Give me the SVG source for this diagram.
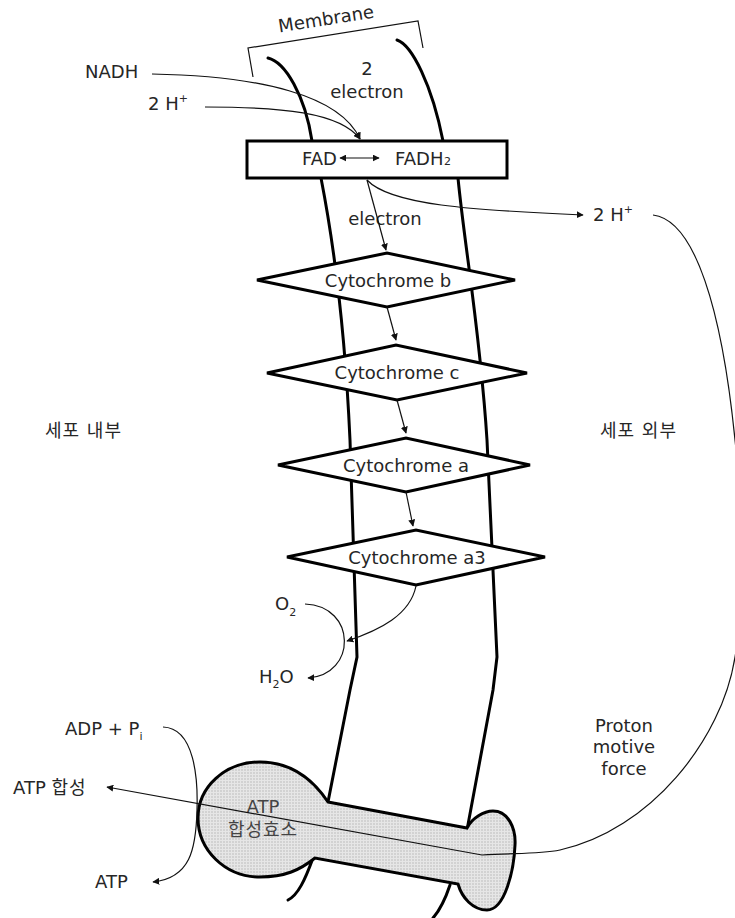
<svg xmlns="http://www.w3.org/2000/svg" width="735" height="918" viewBox="0 0 735 918">
<style>
text{font-family:'DejaVu Sans','Noto Sans CJK KR',sans-serif;font-size:18px;fill:#262626}
.k{letter-spacing:1px}
.mem{fill:none;stroke:#000;stroke-width:3;stroke-linecap:round}
.thin{fill:none;stroke:#111;stroke-width:1.2}
.node{fill:#fff;stroke:#000;stroke-width:3;stroke-linejoin:miter}
.m{text-anchor:middle}
</style>
<defs>
<marker id="ah" viewBox="0 0 10 10" refX="9" refY="5" markerWidth="7" markerHeight="7" markerUnits="userSpaceOnUse" orient="auto-start-reverse">
<path d="M0,0 L10,5 L0,10 z" fill="#111"/>
</marker>
<pattern id="grid" width="3" height="3" patternUnits="userSpaceOnUse">
<rect width="3" height="3" fill="#d2d2d2"/>
<path d="M0,0.5 H3 M0.5,0 V3" stroke="#e6e6e6" stroke-width="1"/>
</pattern>
</defs>
<rect width="735" height="918" fill="#fff"/>

<g id="membrane">
<path class="mem" d="M268,58 C285,62 305,95 312,141"/>
<path class="mem" d="M397,40 C412,45 432,85 443,141"/>
<path class="mem" d="M321,178 C335,250 345,330 350,440 L357,657 L350,690 L328,802"/>
<path class="mem" d="M458,178 C465,250 480,330 487,440 L497,657 L493,690 L467,830"/>
<path class="mem" d="M313,858 C305,880 298,895 288,900"/>
<path class="mem" d="M450,885 C445,900 440,910 433,918"/>
<path class="thin" d="M253,77 L248,48 L418,21 L423,48"/>
<text class="m" transform="translate(327,25) rotate(-9)">Membrane</text>
</g>

<g id="fad">
<rect class="node" x="247" y="141" width="260" height="37"/>
<text x="302" y="165">FAD</text>
<text x="395" y="165">FADH</text>
<text x="444" y="165" style="font-size:11px">2</text>
</g>

<g id="cytb">
<polygon class="node" points="257,280 387,253 515,280 387,307"/>
<text class="m" x="388" y="287">Cytochrome b</text>
</g>
<g id="cytc">
<polygon class="node" points="267,373 396,345 527,373 397,400"/>
<text class="m" x="397" y="379">Cytochrome c</text>
</g>
<g id="cyta">
<polygon class="node" points="278,465 406,438 530,465 406,492"/>
<text class="m" x="406" y="472">Cytochrome a</text>
</g>
<g id="cyta3">
<polygon class="node" points="287,557 416,530 545,557 416,585"/>
<text class="m" x="417" y="564">Cytochrome a3</text>
</g>

<g id="synthase">
<path d="M328,802 L467,828 C472,818 484,811 493,811 C508,811 516,828 515,845 C514,870 505,910 487,910 C473,910 462,898 458,884 L315,858 C300,870 285,877 260,877 C225,877 198,850 198,818 C198,787 225,762 260,762 C288,762 310,775 328,802 Z" fill="url(#grid)" stroke="#000" stroke-width="3"/>
<text class="m" x="263" y="813" style="fill:#444">ATP</text>
<text class="m k" x="263" y="836" style="fill:#444">합성효소</text>
</g>

<g id="labels">
<text class="m" x="367" y="75">2</text>
<text class="m" x="367" y="98">electron</text>
<text x="85" y="78">NADH</text>
<text x="148" y="110">2 H<tspan style="font-size:11px" dy="-8">+</tspan></text>
<text class="m" x="385" y="225">electron</text>
<text x="593" y="221">2 H<tspan style="font-size:11px" dy="-8">+</tspan></text>
<text class="k" x="45" y="437">세포 내부</text>
<text class="k" x="600" y="437">세포 외부</text>
<text x="275" y="610">O<tspan style="font-size:11px" dy="6">2</tspan></text>
<text x="259" y="683">H<tspan style="font-size:11px" dy="5">2</tspan><tspan dy="-5">O</tspan></text>
<text x="65" y="735">ADP + P<tspan style="font-size:11px" dy="5">i</tspan></text>
<text x="13" y="794">ATP <tspan class="k">합성</tspan></text>
<text x="95" y="888">ATP</text>
<text class="m" x="624" y="732">Proton</text>
<text class="m" x="624" y="753">motive</text>
<text class="m" x="624" y="775">force</text>
</g>

<g id="connectors">
<path class="thin" d="M152,74 C260,76 340,95 360,139" marker-end="url(#ah)"/>
<path class="thin" d="M205,107 C280,107 340,112 360,139" marker-end="url(#ah)"/>
<path class="thin" d="M340,158 L379,158" marker-start="url(#ah)" marker-end="url(#ah)"/>
<path class="thin" d="M367,180 L386,250" marker-end="url(#ah)"/>
<path class="thin" d="M367,180 C390,205 470,210 583,215" marker-end="url(#ah)"/>
<path class="thin" d="M387,307 L396,340" marker-end="url(#ah)"/>
<path class="thin" d="M397,400 L406,433" marker-end="url(#ah)"/>
<path class="thin" d="M406,492 L413,526" marker-end="url(#ah)"/>
<path class="thin" d="M416,586 C410,615 380,630 347,641" marker-end="url(#ah)"/>
<path class="thin" d="M305,604 C357,606 357,675 308,678" marker-end="url(#ah)"/>
<path class="thin" d="M163,727 C195,728 198,780 197,810 C196,850 190,878 153,882" marker-end="url(#ah)"/>
<path class="thin" d="M653,215 C695,220 722,310 735,440 C745,530 745,600 735,657 C722,740 650,830 560,850 C540,854 520,853 482,855 L107,787" marker-end="url(#ah)"/>
</g>
</svg>
